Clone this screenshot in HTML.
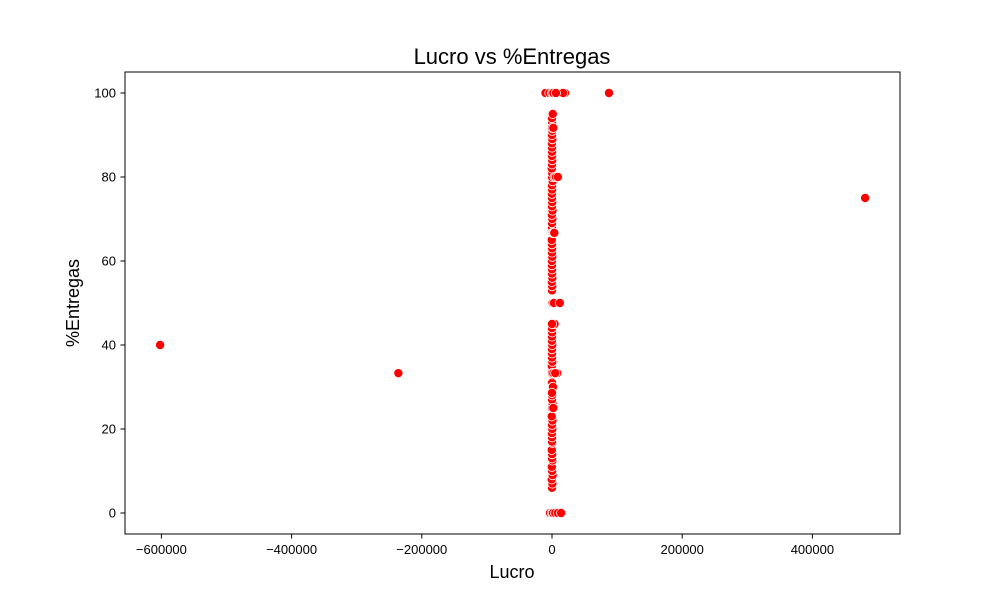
<!DOCTYPE html>
<html><head><meta charset="utf-8"><style>
body{margin:0;background:#fff;font-family:"Liberation Sans","DejaVu Sans",sans-serif}
</style></head><body>
<svg id="c" width="1000" height="600" xmlns="http://www.w3.org/2000/svg">
<rect width="1000" height="600" fill="#fff"/>
<text x="512" y="64" font-size="22" text-anchor="middle">Lucro vs %Entregas</text>
<g id="pts"></g>
<rect x="125" y="72" width="775" height="462" fill="none" stroke="#000" stroke-width="1"/>
<g id="xt"></g>
<g id="yt"></g>
<text x="512" y="578" font-size="18" text-anchor="middle">Lucro</text>
<text x="0" y="0" font-size="18" text-anchor="middle" transform="translate(79,303) rotate(-90)">%Entregas</text>
</svg>
<script>
const xTicks=[-600000,-400000,-200000,0,200000,400000];
const yTicks=[0,20,40,60,80,100];
const lucro=[-602000,-236000,481000,87500,20000,17000,-10000,-4000,0,2000,6000,3000,8000,12000,-3000,0,1500,5000,9000,14000,
0,1000,3000,12000,8000,0,2000,5000,4000,6000,9000,0,2000,4000,0,1000,2500,3500,500,1500,0,2000];
const entregas=[40,33.3,75,100,100,100,100,100,100,100,100,0,0,0,0,0,0,0,0,0,
50,50,50,50,33.3,33.3,33.3,33.3,80,80,80,91.7,91.7,45,45,66.7,66.7,66.7,30,30,28.6,25];
const colY=[6,7,8,9,10,11,12.5,13,14,15,16.7,17,18,19,20,21,22,23,25,26,27,28,29,30,31,33,34,35,36,37,38,39,40,41,42,43,44,45,53,54,55,56,57,58,59,60,61,62,63,64,65,66.7,67,68,69,70,71,72,73,74,75,76,77,78,79,80,81,82,83,84,85,86,87,88,89,90,91,92,93,94,95];
const colX=[0,500,-500,1000,200,-200,800,0,300,-300,600,0,100,-100,400,0,700,-400,0,900,0,200,-200,1200,0,300,0,-300,500,0,100,0,400,-100,0,200,0,1500,0,300,-200,500,0,100,0,-100,400,0,200,0,-300,600,0,100,0,500,-200,800,0,300,0,-100,200,0,1000,0,200,-300,0,400,0,100,0,-200,500,0,300,0,100,0,1200];
const X=v=>552+v*0.000651, Y=v=>513-v*4.2;
const NS="http://www.w3.org/2000/svg";
const xt=document.getElementById('xt'),yt=document.getElementById('yt'),pts=document.getElementById('pts');
function mk(t,a,p){const e=document.createElementNS(NS,t);for(const k in a)e.setAttribute(k,a[k]);p.appendChild(e);return e;}
xTicks.forEach(v=>{const x=X(v);
 const l=mk('line',{x1:x,x2:x,y1:534,y2:538.5,stroke:'#000'},xt);
 
 
 const t=mk('text',{x:x,y:554,'font-size':13,'text-anchor':'middle'},xt);t.textContent=v===0?'0':(v<0?'\u2212'+(-v):v);
 
 });
yTicks.forEach(v=>{const y=Y(v);
 const l=mk('line',{x1:120.5,x2:125,y1:y,y2:y,stroke:'#000'},yt);
 
 
 const t=mk('text',{x:116,y:y+4.5,'font-size':13,'text-anchor':'end'},yt);t.textContent=v;
 
 });
function dot(x,y){const d=mk('circle',{cx:X(x),cy:Y(y),r:4.6,fill:'#ff0000',stroke:'#fff','stroke-width':0.8},pts);
 
 }
colY.forEach((y,i)=>dot(colX[i%colX.length],y));
lucro.forEach((x,i)=>dot(x,entregas[i]));
</script>
</body></html>
